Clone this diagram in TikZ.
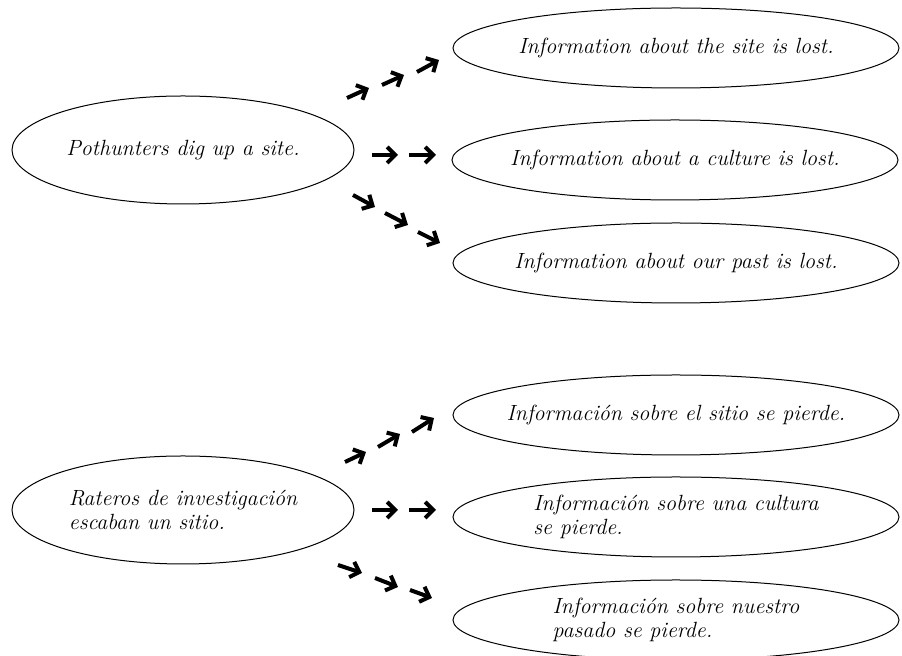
\documentclass[tikz,border=0pt]{standalone}
\usetikzlibrary{shapes.geometric,arrows.meta}
\tikzset{
  bubble/.style={draw, ellipse, line width=0.5pt, inner xsep=-20pt, inner ysep=0pt,
    minimum width=223pt, minimum height=40pt, align=left,
    font=\fontsize{11}{12}\selectfont\itshape},
  bigbubble/.style={bubble, minimum width=171pt, minimum height=54pt},
  chev/.style={line width=2pt, -{Straight Barb[length=4pt,width=8pt,line width=2pt]}}
}
\begin{document}
\begin{tikzpicture}[x=0.5pt, y=-0.5pt]
\useasboundingbox (0,0) rectangle (902,656);
\node[bigbubble] (dig) at (183,150) {Pothunters dig up a site.};
\node[bubble] (site) at (676,48) {Information about the site is lost.};
\node[bubble] (culture) at (675,160) {Information about a culture is lost.};
\node[bubble] (past) at (676,263) {Information about our past is lost.};
\node[bigbubble] (rateros) at (183,510) {Rateros de investigación\\escaban un sitio.};
\node[bubble] (sitio) at (676,415) {Información sobre el sitio se pierde.};
\node[bubble] (cultura) at (676,517) {Información sobre una cultura\\se pierde.};
\node[bubble] (pasado) at (676,620) {Información sobre nuestro\\pasado se pierde.};
\foreach \a/\b/\c/\d in {347/98/369/88, 382/85/404/75, 417/72/439/60,
    372/155/398/155, 409/155/436/155,
    353/195/375/207, 385/213/408/225, 418/232/440/243,
    345/462/366/452, 378/447/400/434, 412/432/434/418,
    372/510/398/510, 409/510/436/510,
    338/565/362/573, 375/578/398/587, 410/590/432/598}
  \draw[chev] (\a,\b) -- (\c,\d);
\end{tikzpicture}
\end{document}
